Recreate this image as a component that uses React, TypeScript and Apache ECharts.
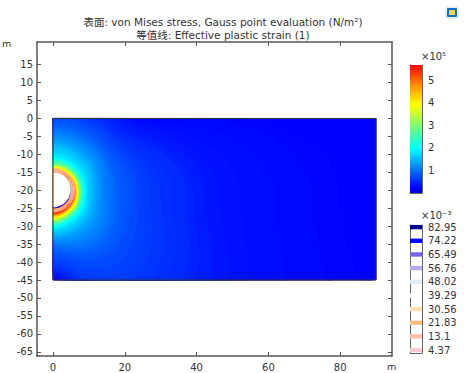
import React, { useEffect, useRef } from "react";
import * as echarts from "echarts";

const xTicks = [0, 20, 40, 60, 80];
const yTicks = [15, 10, 5, 0, -5, -10, -15, -20, -25, -30, -35, -40, -45, -50, -55, -60, -65];
const stressTicks = [1, 2, 3, 4, 5];
const strainLevels = [82.95, 74.22, 65.49, 56.76, 48.02, 39.29, 30.56, 21.83, 13.1, 4.37];
const strainColors = ["#00008c", "#0000ff", "#7a62e4", "#b6aaec", "#e2e8f8", "#ffffff", "#ffdeb4", "#ffbe82", "#ffbeaa", "#ffc8d4"];
const domain = [0, -45, 90, 0];
const holeCenter = [0, -20];
const holeRadius = 5;
const bandCenter = [0, -20.2];
// iso-stress outlines:
// stress (1e5 N/m2), reach towards up, up-right, right, down-right, down (m)
const isoBands = [
  [0.23, 300, 300, 300, 300, 300],
  [0.25, 31, 30, 80, 110, 25],
  [0.27, 30, 30, 72, 95, 24.6],
  [0.295, 29, 29.5, 62, 78, 24],
  [0.33, 28, 29, 52, 66, 23.5],
  [0.36, 27, 28.5, 46, 60, 23],
  [0.4, 26, 27.5, 42, 54, 22.8],
  [0.45, 25, 26, 39, 49, 22.4],
  [0.5, 24, 25, 37, 45, 22],
  [0.54, 23.4, 24, 33, 41, 21.5],
  [0.58, 22.7, 23.2, 30, 37, 21],
  [0.63, 22, 22.5, 27, 33, 20.5],
  [0.67, 21.5, 21.8, 25, 30, 19.8],
  [0.72, 21, 20.9, 23.5, 27, 19],
  [0.77, 20.5, 20, 22, 24, 18],
  [0.81, 19.9, 19.4, 20.6, 23, 17.4],
  [0.85, 19.2, 18.7, 19, 21.8, 17],
  [0.9, 18.5, 18, 17.7, 20.5, 16.5],
  [0.95, 17.9, 17.4, 16.9, 19.5, 15.9],
  [1.0, 17.4, 16.9, 16.1, 18.6, 15.4],
  [1.04, 17, 16.5, 15.5, 18, 15],
  [1.09, 16.3, 15.9, 14.6, 16.9, 14.6],
  [1.14, 15.8, 15.4, 14, 16, 14.3],
  [1.18, 15.4, 15, 13.5, 15.5, 14],
  [1.25, 14.7, 14.2, 12.9, 14.5, 13.5],
  [1.32, 14, 13.5, 12.3, 13.6, 13.1],
  [1.38, 13.5, 13, 11.8, 13, 12.8],
  [1.45, 13, 12.4, 11.2, 12.4, 12.4],
  [1.52, 12.5, 12, 10.8, 11.9, 12.1],
  [1.58, 12, 11.5, 10.3, 11.5, 11.7],
  [1.67, 11.1, 10.7, 9.9, 10.9, 11.2],
  [1.76, 10.4, 10, 9.5, 10.4, 10.8],
  [1.86, 9.7, 9.4, 9.1, 9.9, 10.4],
  [1.96, 9.2, 9, 8.8, 9.5, 10],
  [2.1, 8.9, 8.7, 8.5, 9.1, 9.7],
  [2.25, 8.6, 8.4, 8.3, 8.8, 9.5],
  [2.4, 8.3, 8.2, 8.1, 8.6, 9.3],
  [2.6, 8.0, 8.0, 7.9, 8.4, 9.0],
  [2.8, 7.7, 7.7, 7.7, 8.2, 8.8],
  [3.0, 7.4, 7.5, 7.5, 8.0, 8.5],
  [3.3, 7.1, 7.2, 7.2, 7.7, 8.2],
  [3.6, 6.9, 7.0, 7.0, 7.4, 7.9],
  [3.9, 6.6, 6.7, 6.8, 7.2, 7.6],
  [4.2, 6.4, 6.5, 6.6, 6.9, 7.3],
  [4.5, 6.2, 6.3, 6.4, 6.7, 7.0],
  [4.9, 6.0, 6.1, 6.2, 6.4, 6.7],
  [5.3, 5.8, 5.9, 6.0, 6.2, 6.4],
];
// plastic strain contour arcs: level (1e-3), radius (m), from angle, to angle (deg, 0 = +x)
const strainArcs = [
  [4.37, 6.0, -90, 90],
  [13.1, 5.75, -90, 90],
  [21.83, 5.5, -90, 90],
  [30.56, 5.3, -90, 90],
  [48.02, 5.0, -20, 80],
  [56.76, 4.95, -40, 20],
  [65.49, 4.9, -58, -10],
  [74.22, 4.9, -78, -28],
  [82.95, 4.9, -90, -58],
];

const jetStops: [number, string][] = [
  [0, "#0000d0"],
  [0.04, "#0000ff"],
  [0.345, "#00ffff"],
  [0.5, "#66ff88"],
  [0.69, "#ffff00"],
  [0.84, "#ff9000"],
  [1, "#ff0000"],
];
const stressMax = 5.67;

function hex(c: string) {
  return [1, 3, 5].map((i) => parseInt(c.slice(i, i + 2), 16));
}
function jet(v: number) {
  const t = Math.min(1, Math.max(0, v / stressMax));
  for (let i = 1; i < jetStops.length; i++) {
    if (t <= jetStops[i][0]) {
      const [t0, c0] = jetStops[i - 1];
      const [t1, c1] = jetStops[i];
      const f = (t - t0) / (t1 - t0);
      const a = hex(c0);
      const b = hex(c1);
      return `rgb(${a.map((x, k) => Math.round(x + (b[k] - x) * f)).join(",")})`;
    }
  }
  return "#ff0000";
}

const tickColor = "#555";
const textColor = "#333";
const font = "'DejaVu Sans', 'Noto Sans CJK SC', sans-serif";

function frameAxis(extra: any) {
  return {
    type: "value",
    axisLine: { show: true, onZero: false, lineStyle: { color: tickColor, width: 1.5 } },
    axisTick: { show: true, inside: true, length: 4, lineStyle: { color: tickColor, width: 1 } },
    splitLine: { show: false },
    ...extra,
  };
}

function renderBand(_: any, api: any) {
  const vv = api.value(0);
  const reach = [api.value(5), api.value(4), api.value(3), api.value(2), api.value(1)];
  const pts: number[][] = [];
  for (let a = -90; a <= 90; a += 3) {
    const rad = (a * Math.PI) / 180;
    const pos = Math.min(3.9999, (a + 90) / 45);
    const k = Math.floor(pos);
    const f = (1 - Math.cos((pos - k) * Math.PI)) / 2;
    const r = reach[k] + (reach[k + 1] - reach[k]) * f;
    const x = Math.min(domain[2], Math.max(domain[0], bandCenter[0] + r * Math.cos(rad)));
    const y = Math.min(domain[3], Math.max(domain[1], bandCenter[1] + r * Math.sin(rad)));
    pts.push(api.coord([x, y]));
  }
  return { type: "polygon", shape: { points: pts }, style: { fill: jet(vv), stroke: jet(vv), lineWidth: 0.5 } };
}

function renderHole(_: any, api: any) {
  const pts: number[][] = [];
  for (let a = -90; a <= 90; a += 5) {
    const rad = (a * Math.PI) / 180;
    pts.push(api.coord([holeCenter[0] + api.value(0) * Math.cos(rad), holeCenter[1] + api.value(0) * Math.sin(rad)]));
  }
  return { type: "polygon", shape: { points: pts }, style: { fill: "#fff" } };
}

function renderArc(_: any, api: any) {
  const [lvl, r, a0, a1] = [api.value(0), api.value(1), api.value(2), api.value(3)];
  const pts: number[][] = [];
  for (let a = a0; a <= a1; a += 3) {
    const rad = (a * Math.PI) / 180;
    pts.push(api.coord([holeCenter[0] + r * Math.cos(rad), holeCenter[1] + r * Math.sin(rad)]));
  }
  const i = strainLevels.indexOf(lvl);
  return { type: "polyline", shape: { points: pts }, style: { fill: "none", stroke: strainColors[i], lineWidth: 1 } };
}

function renderOutline(_: any, api: any) {
  const a = api.coord([api.value(0), api.value(3)]);
  const b = api.coord([api.value(2), api.value(1)]);
  return {
    type: "rect",
    shape: { x: a[0], y: a[1], width: b[0] - a[0], height: b[1] - a[1] },
    style: { fill: "none", stroke: "#333", lineWidth: 1 },
  };
}

function renderScale(_: any, api: any) {
  const a = api.coord([0, api.value(1)]);
  const b = api.coord([1, api.value(0)]);
  const stops = jetStops.map(([offset, color]) => ({ offset: 1 - offset, color })).reverse();
  return {
    type: "rect",
    shape: { x: a[0], y: a[1], width: b[0] - a[0], height: b[1] - a[1] },
    style: { fill: new echarts.graphic.LinearGradient(0, 0, 0, 1, stops) },
  };
}

function renderLevel(_: any, api: any) {
  const lvl = api.value(0);
  const a = api.coord([0, lvl + 1.4]);
  const b = api.coord([1, lvl - 1.4]);
  return {
    type: "rect",
    shape: { x: a[0], y: a[1], width: b[0] - a[0], height: b[1] - a[1] },
    style: { fill: strainColors[strainLevels.indexOf(lvl)] },
  };
}

export default function App() {
  const ref = useRef<HTMLDivElement>(null);
  useEffect(() => {
    const chart = echarts.init(ref.current!, undefined, { renderer: "svg" });
    const scaleAxis = (min: number, max: number, ticks: number[], pos: string, labels: boolean, idx: number) => ({
      type: "value",
      gridIndex: idx,
      min,
      max,
      position: pos,
      axisLine: { show: true, onZero: false, lineStyle: { color: "#666", width: 1 } },
      axisTick: { show: true, inside: true, length: 2, customValues: ticks, lineStyle: { color: "#333", width: 1 } },
      axisLabel: {
        show: labels,
        customValues: ticks,
        margin: 6,
        color: textColor,
        fontSize: 10,
        fontFamily: font,
        formatter: (v: number) => String(v),
      },
      splitLine: { show: false },
    });
    const hiddenX = (idx: number, pos: string) => ({
      type: "value",
      gridIndex: idx,
      min: 0,
      max: 1,
      position: pos,
      axisLine: { show: true, onZero: false, lineStyle: { color: "#666", width: 1 } },
      axisTick: { show: false },
      axisLabel: { show: false },
      splitLine: { show: false },
    });
    chart.setOption({
      animation: false,
      backgroundColor: "#fff",
      title: [
        {
          text: "表面: von Mises stress, Gauss point evaluation (N/m²)",
          left: 218,
          top: 12,
          textAlign: "center",
          textStyle: { fontSize: 10.5, fontWeight: "normal", color: textColor, fontFamily: font },
        },
        {
          text: "等值线: Effective plastic strain (1)",
          left: 218,
          top: 25,
          textAlign: "center",
          textStyle: { fontSize: 10.5, fontWeight: "normal", color: textColor, fontFamily: font },
        },
      ],
      grid: [
        { left: 37, top: 42, width: 355, height: 314 },
        { left: 410, top: 65, width: 12, height: 128 },
        { left: 410, top: 225, width: 12, height: 128 },
      ],
      xAxis: [
        frameAxis({
          gridIndex: 0,
          min: -4.46,
          max: 94.42,
          position: "bottom",
          axisTick: { show: true, inside: true, length: 4, customValues: xTicks, lineStyle: { color: tickColor } },
          axisLabel: { customValues: xTicks, color: textColor, fontSize: 10, fontFamily: font, margin: 6 },
        }),
        frameAxis({
          gridIndex: 0,
          min: -4.46,
          max: 94.42,
          position: "top",
          axisTick: { show: true, inside: true, length: 4, customValues: xTicks, lineStyle: { color: tickColor } },
          axisLabel: { show: false },
        }),
        hiddenX(1, "bottom"),
        hiddenX(1, "top"),
        hiddenX(2, "bottom"),
        hiddenX(2, "top"),
      ],
      yAxis: [
        frameAxis({
          gridIndex: 0,
          min: -66.16,
          max: 21.3,
          position: "left",
          axisTick: { show: true, inside: true, length: 4, customValues: yTicks, lineStyle: { color: tickColor } },
          axisLabel: { customValues: yTicks, color: textColor, fontSize: 10, fontFamily: font, margin: 4 },
        }),
        frameAxis({
          gridIndex: 0,
          min: -66.16,
          max: 21.3,
          position: "right",
          axisTick: { show: true, inside: true, length: 4, customValues: yTicks, lineStyle: { color: tickColor } },
          axisLabel: { show: false },
        }),
        scaleAxis(0, stressMax, stressTicks, "right", true, 1),
        scaleAxis(0, stressMax, stressTicks, "left", false, 1),
        scaleAxis(2.5, 84.3, strainLevels, "right", true, 2),
        scaleAxis(2.5, 84.3, strainLevels, "left", false, 2),
      ],
      series: [
        { type: "custom", xAxisIndex: 0, yAxisIndex: 0, clip: true, silent: true, renderItem: renderBand, data: isoBands },
        { type: "custom", xAxisIndex: 0, yAxisIndex: 0, silent: true, renderItem: renderHole, data: [[holeRadius]] },
        { type: "custom", xAxisIndex: 0, yAxisIndex: 0, silent: true, renderItem: renderArc, data: strainArcs },
        { type: "custom", xAxisIndex: 0, yAxisIndex: 0, silent: true, renderItem: renderOutline, data: [domain] },
        { type: "custom", xAxisIndex: 2, yAxisIndex: 2, silent: true, renderItem: renderScale, data: [[0, stressMax]] },
        { type: "custom", xAxisIndex: 4, yAxisIndex: 4, silent: true, renderItem: renderLevel, data: strainLevels.map((v) => [v]) },
      ],
      graphic: [
        { type: "text", x: 2, y: 39, style: { text: "m", fill: textColor, font: `9.5px ${font}` } },
        { type: "text", x: 387, y: 362, style: { text: "m", fill: textColor, font: `9.5px ${font}` } },
        { type: "text", x: 421, y: 51, style: { text: "×10⁵", fill: textColor, font: `10px ${font}` } },
        { type: "text", x: 421, y: 210, style: { text: "×10⁻³", fill: textColor, font: `10px ${font}` } },
        { type: "rect", shape: { x: 445, y: 6, width: 14, height: 13, r: 3 }, style: { fill: "#e8eef2" } },
        { type: "rect", shape: { x: 447, y: 8, width: 10, height: 9, r: 1 }, style: { fill: "#1070c0" } },
        { type: "rect", shape: { x: 449, y: 10, width: 6, height: 5 }, style: { fill: "#f0d860" } },
      ],
    });
    return () => chart.dispose();
  }, []);
  return <div ref={ref} style={{ position: "absolute", left: 0, top: 0, width: 466, height: 373 }} />;
}
